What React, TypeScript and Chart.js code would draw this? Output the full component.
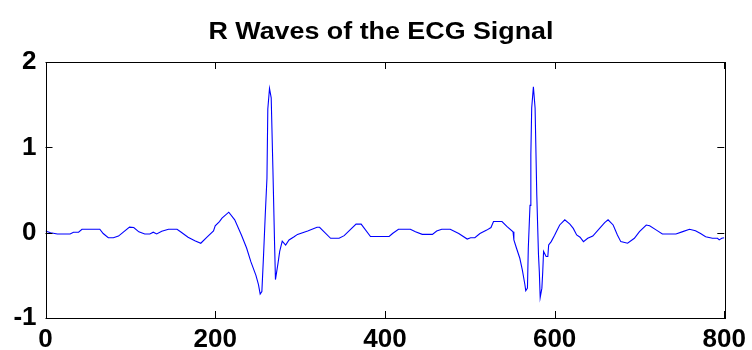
import React, { useEffect, useRef } from "react";
import { Chart, registerables } from "chart.js";

Chart.register(...registerables);

const TITLE = "R Waves of the ECG Signal";
const X_TICKS = [0, 200, 400, 600, 800];
const Y_TICKS = [-1, 0, 1, 2];

const sampleIndex = [
  0, 6, 14, 29, 33, 39, 43, 64, 68, 74, 80, 86, 99, 104, 110, 117, 123, 127, 131, 137,
  145, 155, 160, 168, 176, 183, 190, 198, 200, 205, 208, 216, 223, 231, 237, 242, 248, 251, 253, 255,
  257, 259, 261, 262, 264, 266, 268, 270, 271, 274, 276, 279, 283, 287, 293, 297, 309, 320, 323, 336,
  346, 352, 366, 372, 383, 405, 409, 416, 430, 436, 444, 456, 461, 467, 477, 487, 497, 501, 506, 512,
  520, 525, 528, 538, 544, 551, 552, 555, 559, 562, 565, 566, 568, 569, 571, 572, 573, 575, 577, 579,
  581, 582, 583, 585, 586, 587, 590, 592, 593, 596, 600, 602, 606, 612, 618, 622, 626, 630, 634, 639,
  645, 653, 659, 663, 669, 674, 678, 686, 694, 700, 708, 712, 720, 727, 743, 751, 759, 766, 772, 778,
  786, 792, 794, 797, 800,
];

const amplitude = [
  0.02, 0.0, -0.015, -0.015, 0.005, 0.005, 0.04, 0.04, -0.01, -0.06, -0.06, -0.04, 0.065, 0.06, 0.01, -0.015, -0.015, 0.005, -0.015, 0.016,
  0.04, 0.04, 0.005, -0.054, -0.094, -0.124, -0.054, 0.02, 0.08, 0.13, 0.17, 0.24, 0.15, -0.03, -0.18, -0.34, -0.5, -0.61, -0.72, -0.69,
  -0.26, 0.21, 0.64, 1.45, 1.69, 1.58, 0.75, -0.14, -0.55, -0.36, -0.22, -0.1, -0.145, -0.085, -0.047, -0.02, 0.02, 0.063, 0.063, -0.066,
  -0.066, -0.035, 0.1, 0.1, -0.045, -0.045, -0.01, 0.04, 0.04, 0.01, -0.02, -0.02, 0.02, 0.04, 0.04, -0.01, -0.075, -0.06, -0.06, -0.01,
  0.03, 0.06, 0.13, 0.13, 0.07, 0.01, -0.085, -0.18, -0.3, -0.44, -0.61, -0.68, -0.65, -0.18, 0.32, 0.91, 1.46, 1.71, 1.46, 0.44,
  -0.26, -0.46, -0.76, -0.65, -0.46, -0.22, -0.28, -0.28, -0.144, -0.105, -0.03, 0.01, 0.09, 0.15, 0.1, 0.05, -0.027, -0.054, -0.105, -0.066,
  -0.04, 0.05, 0.117, 0.15, 0.09, -0.027, -0.105, -0.124, -0.066, 0.012, 0.09, 0.082, 0.03, -0.015, -0.015, 0.012, 0.04, 0.023, -0.01, -0.047,
  -0.066, -0.066, -0.085, -0.066, -0.06,
];

const FONT = "'Liberation Sans', Arial, Helvetica, sans-serif";

const boxPlugin = {
  id: "matlabBox",
  afterDraw(chart: any) {
    const { ctx, chartArea } = chart;
    const xs = chart.scales.x;
    const ys = chart.scales.y;
    const L = chartArea.left, R = chartArea.right, T = chartArea.top, B = chartArea.bottom;
    const tl = 7;
    ctx.save();
    ctx.strokeStyle = "#000";
    ctx.lineWidth = 1;
    ctx.beginPath();
    X_TICKS.forEach((v) => {
      const px = Math.round(xs.getPixelForValue(v)) + 0.5;
      ctx.moveTo(px, B);
      ctx.lineTo(px, B - tl);
      ctx.moveTo(px, T);
      ctx.lineTo(px, T + tl);
    });
    Y_TICKS.forEach((v) => {
      const py = Math.round(ys.getPixelForValue(v)) + 0.5;
      ctx.moveTo(L, py);
      ctx.lineTo(L + tl, py);
      ctx.moveTo(R, py);
      ctx.lineTo(R - tl, py);
    });
    ctx.stroke();
    ctx.strokeRect(Math.round(L) + 0.5, Math.round(T) + 0.5, Math.round(R - L), Math.round(B - T));
    // title
    ctx.fillStyle = "#000";
    ctx.font = `bold 23px ${FONT}`;
    ctx.textAlign = "center";
    ctx.textBaseline = "alphabetic";
    const w = ctx.measureText(TITLE).width;
    const sx = 345 / w;
    ctx.translate(381, 39);
    ctx.scale(sx, 1);
    ctx.fillText(TITLE, 0, 0);
    ctx.restore();
  },
};

export default function App() {
  const ref = useRef<HTMLCanvasElement | null>(null);
  useEffect(() => {
    document.body.style.margin = "0";
    const canvas = ref.current!;
    const chart = new Chart(canvas, {
      type: "line",
      data: {
        datasets: [
          {
            data: sampleIndex.map((x, i) => ({ x, y: amplitude[i] })),
            borderColor: "#0000ff",
            borderWidth: 1.1,
            pointRadius: 0,
            tension: 0,
            fill: false,
          },
        ],
      },
      options: {
        responsive: false,
        animation: false,
        devicePixelRatio: 1,
        layout: { padding: { top: 62, right: 25.5, bottom: 0, left: 0 } },
        plugins: { legend: { display: false }, title: { display: false }, tooltip: { enabled: false } },
        scales: {
          x: {
            type: "linear",
            min: 0,
            max: 800,
            afterBuildTicks: (s: any) => {
              s.ticks = X_TICKS.map((v) => ({ value: v }));
            },
            afterFit: (s: any) => {
              s.height = 32;
            },
            grid: { display: false, drawTicks: false },
            border: { display: false },
            ticks: {
              padding: 6,
              color: "#000",
              maxRotation: 0,
              autoSkip: false,
              font: { family: FONT, size: 26, weight: "bold" },
            },
          },
          y: {
            min: -1,
            max: 2,
            afterBuildTicks: (s: any) => {
              s.ticks = Y_TICKS.map((v) => ({ value: v }));
            },
            afterFit: (s: any) => {
              s.width = 45.5;
            },
            grid: { display: false, drawTicks: false },
            border: { display: false },
            ticks: {
              padding: 9,
              color: "#000",
              font: { family: FONT, size: 26, weight: "bold" },
            },
          },
        },
      },
      plugins: [boxPlugin],
    });
    return () => chart.destroy();
  }, []);
  return (
    <div style={{ position: "fixed", left: 0, top: 0, width: 752, height: 350, background: "#fff" }}>
      <canvas ref={ref} width={752} height={350} />
    </div>
  );
}
